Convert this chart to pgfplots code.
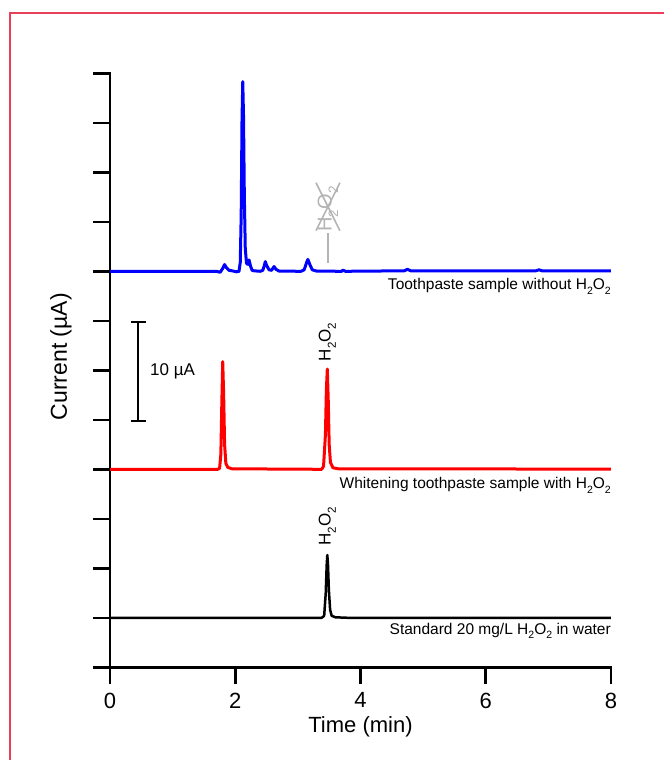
\documentclass[border=0pt]{standalone}
\usepackage{fontspec}
\setmainfont{Liberation Sans}
\usepackage{pgfplots}
\pgfplotsset{compat=1.18}
\usetikzlibrary{calc}
\definecolor{frame}{RGB}{232,64,88}
\definecolor{ghost}{RGB}{180,180,180}
\newcommand{\sub}[1]{\raisebox{-0.32em}{\scalebox{0.68}{#1}}}
\newcommand{\hoo}{H\sub{2}O\sub{2}}

\begin{document}
\begin{tikzpicture}
% picture = 664 x 760 px, axis box lower-left at (110,667.3) px
\path[use as bounding box] (-110bp,-92.7bp) rectangle (554bp,667.3bp);
\draw[frame, line width=1.5bp] (-100bp,-92.7bp) -- (-100bp,654.3bp) -- (554bp,654.3bp);

\begin{axis}[
  at={(0,0)}, anchor=south west,
  scale only axis, width=501bp, height=594bp,
  xmin=0, xmax=8, ymin=0, ymax=60,
  axis lines*=left,
  axis line style={line width=2.6bp, line cap=rect},
  xtick={0,2,...,8}, ytick={0,5,...,60}, yticklabels={},
  tick align=outside, major tick length=17bp,
  tick style={line width=2.6bp, black},
  /pgf/number format/assume math mode=true,
  ticklabel style={font=\fontsize{22bp}{26bp}\selectfont},
  xticklabel style={yshift=-5bp},
  xlabel={Time (min)}, ylabel={Current (µA)},
  xlabel style={font=\fontsize{22bp}{26bp}\selectfont, at={(axis description cs:0.5,-0.1106)}, anchor=base},
  ylabel style={font=\fontsize{23bp}{27bp}\selectfont, at={(axis description cs:-0.0978,0.523)}, anchor=center},
  clip=false,
]
% blue: toothpaste without H2O2 (baseline 40 uA)
\addplot[blue, line width=3bp, line join=round] coordinates {
  (0,40.0) (1.70,40.0) (1.76,39.9) (1.80,40.3) (1.83,40.68) (1.86,40.35) (1.90,40.1)
  (1.95,40.05) (2.02,39.95) (2.06,40.0) (2.08,40.9) (2.095,45.7) (2.108,55.3)
  (2.12,59.15) (2.132,55.7) (2.145,47.7) (2.16,42.3) (2.18,40.8) (2.20,40.7)
  (2.22,41.15) (2.245,40.5) (2.27,40.1) (2.30,40.05) (2.40,40.0) (2.44,40.1)
  (2.465,40.6) (2.48,40.98) (2.50,40.6) (2.54,40.15) (2.58,40.1) (2.62,40.48)
  (2.65,40.2) (2.70,40.02) (3.05,40.0) (3.10,40.15) (3.14,40.9) (3.16,41.2)
  (3.19,40.7) (3.23,40.15) (3.30,40.02) (3.70,40.0) (3.72,40.12) (3.76,40.0)
  (4.70,40.05) (4.75,40.2) (4.80,40.05) (6.80,40.05) (6.85,40.15) (6.90,40.05) (8,40.05)};
% red: whitening toothpaste with H2O2 (baseline 20 uA)
\addplot[red, line width=3bp, line join=round] coordinates {
  (0,20.0) (1.72,20.0) (1.75,20.1) (1.77,21.5) (1.785,26.5) (1.80,30.87) (1.815,27.5)
  (1.83,22.5) (1.85,20.6) (1.88,20.2) (1.95,20.05) (3.38,20.0) (3.41,20.3)
  (3.44,23.5) (3.455,28.0) (3.47,30.13) (3.485,27.0) (3.50,22.5) (3.52,20.7)
  (3.56,20.15) (3.65,20.05) (8,20.02)};
% black: standard 20 mg/L H2O2 (baseline 5 uA)
\addplot[black, line width=2.5bp, line join=round] coordinates {
  (0,5.0) (3.38,5.0) (3.42,5.2) (3.445,7.5) (3.46,10.3) (3.47,11.34) (3.48,10.5)
  (3.495,7.8) (3.515,5.8) (3.54,5.2) (3.60,5.05) (3.80,5.0) (8,5.0)};

% trace labels
\node[anchor=base east, inner sep=0, font=\fontsize{15.5bp}{18bp}\selectfont] at (axis cs:8,38.18) {Toothpaste sample without \hoo};
\node[anchor=base east, inner sep=0, font=\fontsize{15.5bp}{18bp}\selectfont] at (axis cs:8,18.08) {Whitening toothpaste sample with \hoo};
\node[anchor=base east, inner sep=0, font=\fontsize{15.5bp}{18bp}\selectfont] at (axis cs:8,3.36) {Standard 20 mg/L \hoo{} in water};

% peak labels
\node[rotate=90, anchor=west, inner sep=0, font=\fontsize{17bp}{20bp}\selectfont] at (axis cs:3.47,30.9) {\hoo};
\node[rotate=90, anchor=west, inner sep=0, font=\fontsize{17bp}{20bp}\selectfont] at (axis cs:3.47,12.27) {\hoo};

% crossed-out H2O2 (absent in blue trace)
\node[rotate=90, anchor=west, inner sep=0, text=ghost, font=\fontsize{20bp}{24bp}\selectfont] at (axis cs:3.48,44.0) {\hoo};
\draw[ghost, line width=1.6bp] (axis cs:3.48,43.85) -- (axis cs:3.48,40.8);
\draw[ghost, line width=1.6bp] (axis cs:3.289,48.95) -- (axis cs:3.672,44.1);
\draw[ghost, line width=1.6bp] (axis cs:3.672,48.95) -- (axis cs:3.289,44.1);

% 10 uA scale bar
\draw[line width=2bp] (axis cs:0.452,24.9) -- (axis cs:0.452,34.9);
\draw[line width=2bp] (axis cs:0.335,24.9) -- (axis cs:0.575,24.9);
\draw[line width=2bp] (axis cs:0.335,34.9) -- (axis cs:0.575,34.9);
\node[anchor=west, inner sep=0, font=\fontsize{17bp}{20bp}\selectfont] at (axis cs:0.639,29.9) {10 µA};
\end{axis}
\end{tikzpicture}
\end{document}
